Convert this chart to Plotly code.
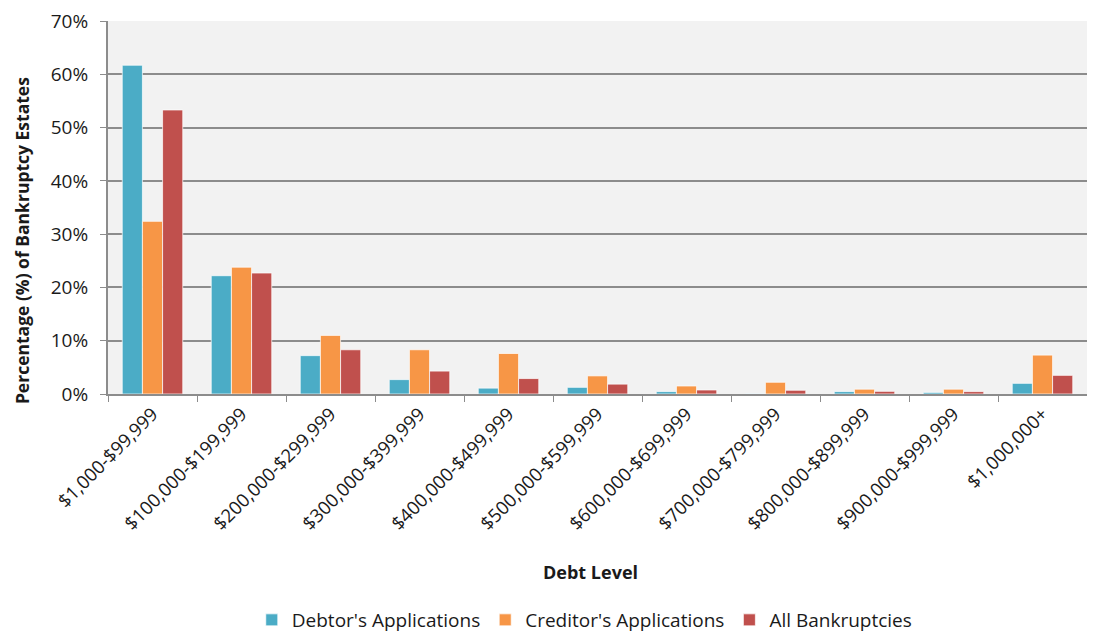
import plotly.graph_objects as go

categories = [
    "$1,000-$99,999", "$100,000-$199,999", "$200,000-$299,999",
    "$300,000-$399,999", "$400,000-$499,999", "$500,000-$599,999",
    "$600,000-$699,999", "$700,000-$799,999", "$800,000-$899,999",
    "$900,000-$999,999", "$1,000,000+",
]
debtor_apps = [61.7, 22.2, 7.2, 2.7, 1.1, 1.25, 0.45, 0.05, 0.45, 0.3, 2.0]
creditor_apps = [32.4, 23.8, 11.0, 8.3, 7.6, 3.4, 1.5, 2.2, 0.9, 0.9, 7.3]
all_bankruptcies = [53.3, 22.7, 8.3, 4.3, 2.9, 1.85, 0.75, 0.7, 0.5, 0.45, 3.5]

series = [
    ("Debtor's Applications", debtor_apps, "#4BACC6"),
    ("Creditor's Applications", creditor_apps, "#F79646"),
    ("All Bankruptcies", all_bankruptcies, "#C0504D"),
]

FONT = "'Open Sans', sans-serif"

fig = go.Figure()
for name, vals, color in series:
    fig.add_trace(go.Bar(
        x=categories, y=vals, name=name,
        marker=dict(color=color, line=dict(color="rgba(255,255,255,0.7)", width=1)),
    ))

# the page body keeps an 8px margin, so size the figure to the space left inside it
fig.update_layout(
    width=1079, height=624,
    barmode="group", bargap=0.32, bargroupgap=0,
    plot_bgcolor="#F2F2F2", paper_bgcolor="white",
    margin=dict(l=100, r=0, t=13, b=238),
    font=dict(family=FONT, size=19, color="#1a1a1a"),
    legend=dict(orientation="h", x=0.487, xanchor="center",
                yref="container", y=0.0192, yanchor="middle",
                font=dict(size=19), itemwidth=30, traceorder="normal"),
    xaxis=dict(
        automargin=False,
        tickangle=-45, tickson="boundaries", ticks="outside", ticklen=6,
        tickcolor="#8c8c8c", showline=True, linecolor="#8c8c8c", linewidth=2,
        tickfont=dict(size=18.5),
    ),
    yaxis=dict(
        automargin=False, ticklabeloverflow="allow",
        range=[0, 70], dtick=10, ticksuffix="%", ticks="outside", ticklen=6,
        ticklabelstandoff=8,
        tickcolor="#8c8c8c", showline=True, linecolor="#8c8c8c", linewidth=2,
        gridcolor="#8c8c8c", gridwidth=2, zeroline=False,
        tickfont=dict(size=19),
    ),
    annotations=[
        dict(text="<b>Debt Level</b>", xref="paper", yref="paper",
             x=0.493, y=-0.477, xanchor="center", yanchor="middle",
             showarrow=False, font=dict(size=18)),
        dict(text="<b>Percentage (%) of Bankruptcy Estates</b>",
             xref="paper", yref="paper", x=-0.0878, y=0.41, textangle=-90,
             xanchor="center", yanchor="middle",
             showarrow=False, font=dict(size=17.5)),
    ],
)

fig.write_html("out.html")
